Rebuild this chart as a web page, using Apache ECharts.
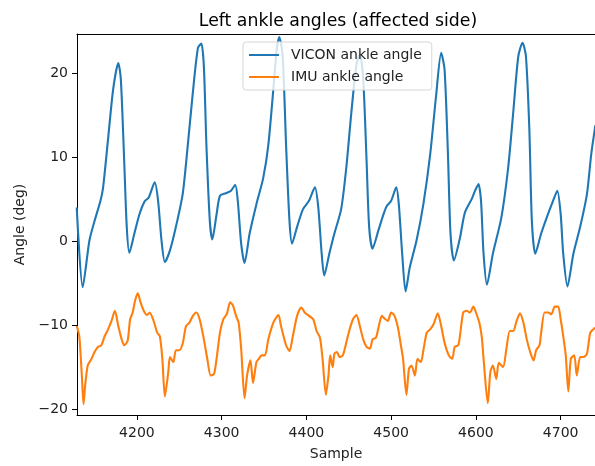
<!DOCTYPE html>
<html>
<head>
<meta charset="utf-8">
<script src="https://cdn.jsdelivr.net/npm/echarts@6/dist/echarts.min.js"></script>
<style>
  html, body { margin: 0; padding: 0; background: #fff; }
  #chart { width: 595px; height: 466px; }
</style>
</head>
<body>
<div id="chart"></div>
<script>
// VICON ankle angle (deg) vs sample
var vicSamples = [4129, 4136, 4144, 4150, 4157, 4160, 4166, 4172, 4178, 4181, 4185, 4188, 4191, 4197, 4203, 4209, 4214, 4221, 4225, 4229,
    4233, 4239, 4246, 4254, 4260, 4266, 4272, 4276, 4279, 4282, 4286, 4289, 4294, 4298, 4305, 4311, 4316, 4319, 4323, 4327,
    4333, 4341, 4349, 4355, 4361, 4365, 4368, 4372, 4376, 4380, 4383, 4389, 4396, 4403, 4410, 4414, 4418, 4421, 4427, 4433,
    4441, 4447, 4453, 4459, 4463, 4467, 4471, 4474, 4478, 4485, 4491, 4495, 4500, 4506, 4509, 4513, 4517, 4522, 4530, 4538,
    4546, 4553, 4559, 4563, 4567, 4570, 4574, 4581, 4587, 4595, 4599, 4603, 4606, 4609, 4613, 4620, 4630, 4638, 4644, 4650,
    4655, 4659, 4663, 4666, 4670, 4677, 4685, 4691, 4696, 4700, 4703, 4708, 4715, 4723, 4731, 4736, 4741];
var vicAngles = [4.0, -5.5, 0.1, 2.4, 4.8, 6.3, 12.2, 18.1, 21.2, 19.3, 9.5, 1.7, -1.4, 0.9, 3.2, 4.7, 5.2, 7.0, 4.8, 0.1,
    -2.5, -1.1, 1.7, 5.6, 11.4, 17.7, 23.0, 23.5, 20.8, 11.4, 2.4, 0.2, 3.2, 5.4, 5.7, 6.0, 6.7, 4.8, -0.3, -2.6,
    0.9, 4.4, 7.5, 11.4, 18.1, 22.8, 24.3, 22.0, 11.4, 2.4, -0.3, 1.7, 3.8, 4.8, 6.4, 4.0, -1.5, -4.1, -1.5, 0.9,
    3.8, 8.7, 15.3, 21.0, 22.3, 19.3, 9.5, 1.7, -0.9, 1.3, 3.2, 4.2, 4.8, 6.4, 4.4, -1.5, -6.0, -3.1, 0.1, 4.4,
    10.3, 17.3, 22.4, 20.4, 10.3, 0.9, -2.3, 0.3, 3.4, 5.0, 6.0, 6.8, 4.8, -1.5, -5.2, -1.5, 2.8, 8.7, 15.3, 22.0,
    23.6, 22.0, 13.4, 2.4, -1.5, 0.9, 3.2, 4.8, 6.0, 3.2, -1.5, -5.4, -1.5, 1.7, 5.6, 10.3, 13.8];

// IMU ankle angle (deg) vs sample
var imuSamples = [4129, 4132, 4135, 4137, 4139, 4142, 4146, 4150, 4154, 4158, 4162, 4166, 4170, 4174, 4178, 4182, 4185, 4189, 4192, 4195,
    4198, 4201, 4204, 4208, 4212, 4215, 4219, 4224, 4227, 4230, 4233, 4237, 4239, 4243, 4246, 4250, 4254, 4258, 4262, 4266,
    4270, 4274, 4279, 4283, 4287, 4291, 4294, 4298, 4302, 4306, 4310, 4313, 4317, 4320, 4323, 4327, 4330, 4334, 4337, 4341,
    4344, 4347, 4351, 4355, 4361, 4367, 4370, 4376, 4380, 4384, 4389, 4394, 4398, 4403, 4408, 4412, 4416, 4419, 4423, 4426,
    4428, 4431, 4433, 4436, 4439, 4443, 4447, 4451, 4455, 4459, 4463, 4467, 4471, 4475, 4478, 4482, 4485, 4489, 4492, 4496,
    4500, 4504, 4508, 4511, 4514, 4518, 4521, 4524, 4528, 4531, 4535, 4538, 4542, 4546, 4550, 4555, 4559, 4563, 4568, 4572,
    4575, 4579, 4581, 4585, 4589, 4593, 4597, 4600, 4604, 4607, 4609, 4614, 4617, 4620, 4624, 4627, 4632, 4636, 4640, 4644,
    4648, 4652, 4656, 4660, 4664, 4668, 4671, 4675, 4677, 4681, 4685, 4689, 4693, 4697, 4700, 4703, 4706, 4709, 4712, 4716,
    4719, 4723, 4727, 4731, 4735, 4741];
var imuAngles = [-10.1, -11.3, -16.0, -19.4, -17.1, -14.8, -14.1, -13.2, -12.6, -12.4, -11.3, -10.5, -9.5, -8.3, -10.1, -11.7, -12.4, -11.9, -9.3, -8.5,
    -7.0, -6.2, -7.2, -8.3, -8.8, -8.5, -9.3, -10.9, -11.3, -14.0, -18.5, -15.6, -13.8, -14.4, -13.0, -13.0, -12.2, -10.1, -9.7, -8.9,
    -8.5, -9.3, -11.7, -14.0, -16.0, -15.8, -14.0, -10.9, -9.3, -8.7, -7.3, -7.6, -8.9, -9.7, -12.8, -18.7, -16.0, -14.2, -16.9, -14.4,
    -14.0, -13.6, -13.6, -11.7, -9.7, -8.8, -10.1, -12.4, -13.1, -11.3, -8.9, -7.9, -8.5, -8.9, -9.3, -10.7, -11.5, -14.0, -18.3, -16.0,
    -13.6, -15.0, -13.4, -13.2, -13.8, -13.6, -12.1, -10.5, -9.3, -8.8, -10.1, -11.7, -12.6, -12.8, -11.7, -11.5, -10.3, -8.9, -9.2, -9.5,
    -8.5, -8.9, -10.3, -12.1, -14.0, -18.3, -15.2, -14.8, -16.0, -14.0, -14.4, -13.0, -10.9, -10.5, -9.9, -8.6, -10.1, -12.1, -13.6, -14.0,
    -12.6, -12.4, -11.4, -8.5, -8.3, -8.5, -7.8, -8.5, -9.7, -11.5, -14.0, -19.3, -15.6, -14.8, -16.4, -14.5, -15.0, -12.8, -10.7, -10.7,
    -9.5, -8.6, -9.7, -11.7, -13.2, -14.2, -13.0, -12.4, -10.9, -8.5, -8.5, -8.7, -7.8, -7.8, -9.3, -11.3, -13.6, -17.9, -14.0, -13.6,
    -16.0, -13.8, -13.8, -13.4, -10.9, -10.3];

var xTicks = [4200, 4300, 4400, 4500, 4600, 4700];
var yTicks = [-20, -10, 0, 10, 20];

function pairs(xs, ys) {
    var out = [];
    for (var i = 0; i < xs.length; i++) out.push([xs[i], ys[i]]);
    return out;
}

var font = 'DejaVu Sans';
var myChart = echarts.init(document.getElementById('chart'));
var option = {
    animation: false,
    textStyle: { fontFamily: font },
    title: {
        text: 'Left ankle angles (affected side)',
        left: 333,
        top: 8,
        textAlign: 'center',
        textStyle: { fontFamily: font, fontSize: 17.3, fontWeight: 'normal', color: '#000' }
    },
    legend: {
        orient: 'vertical',
        left: 243,
        top: 42,
        z: 20,
        padding: [6, 10, 6, 5],
        itemGap: 8,
        itemWidth: 30,
        itemHeight: 14,
        backgroundColor: 'rgba(255,255,255,0.8)',
        borderColor: '#d6d6d6',
        borderWidth: 1,
        borderRadius: 3,
        itemStyle: { opacity: 0 },
        textStyle: { fontFamily: font, fontSize: 14, color: '#222', padding: [0, 0, 0, 7] },
        data: ['VICON ankle angle', 'IMU ankle angle']
    },
    grid: { left: 77, top: 34, right: 0, bottom: 46 },
    xAxis: [{
        type: 'value',
        min: 4129.3,
        max: 4740.5,
        name: 'Sample',
        nameLocation: 'middle',
        nameGap: 32,
        nameTextStyle: { fontFamily: font, fontSize: 14, color: '#222' },
        splitLine: { show: false },
        axisLine: { show: true, onZero: false, lineStyle: { color: '#000', width: 1 } },
        axisTick: { show: true, length: 5, lineStyle: { color: '#000' }, customValues: xTicks },
        axisLabel: {
            fontFamily: font, fontSize: 14, color: '#222', margin: 11, customValues: xTicks,
            formatter: function (v) { return String(v); }
        }
    }, {
        type: 'value',
        position: 'top',
        min: 4129.3,
        max: 4740.5,
        splitLine: { show: false },
        axisLine: { show: true, onZero: false, lineStyle: { color: '#000', width: 1 } },
        axisTick: { show: false },
        axisLabel: { show: false }
    }],
    yAxis: {
        type: 'value',
        min: -20.7,
        max: 24.65,
        name: 'Angle (deg)',
        nameLocation: 'middle',
        nameGap: 50,
        nameRotate: 90,
        nameTextStyle: { fontFamily: font, fontSize: 14, color: '#222' },
        splitLine: { show: false },
        axisLine: { show: true, onZero: false, lineStyle: { color: '#000', width: 1 } },
        axisTick: { show: true, length: 5, lineStyle: { color: '#000' }, customValues: yTicks },
        axisLabel: {
            fontFamily: font, fontSize: 14, color: '#222', margin: 9, customValues: yTicks,
            formatter: function (v) { return String(v).replace('-', '\u2212'); }
        }
    },
    series: [{
        name: 'VICON ankle angle',
        type: 'line',
        data: pairs(vicSamples, vicAngles),
        symbol: 'none',
        smooth: 0.25,
        lineStyle: { color: '#1f77b4', width: 2.1 },
        itemStyle: { color: '#1f77b4' }
    }, {
        name: 'IMU ankle angle',
        type: 'line',
        data: pairs(imuSamples, imuAngles),
        symbol: 'none',
        smooth: 0.25,
        lineStyle: { color: '#ff7f0e', width: 2.1 },
        itemStyle: { color: '#ff7f0e' }
    }]
};
myChart.setOption(option);
</script>
</body>
</html>
